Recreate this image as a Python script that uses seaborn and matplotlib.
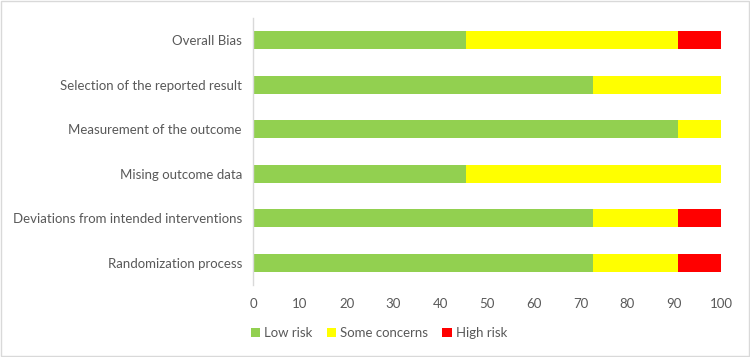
import seaborn as sns
import matplotlib.pyplot as plt
import numpy as np
import pandas as pd
from matplotlib.patches import Patch, Rectangle

# ---- data (percent of studies) ----
domains = [
    "Overall Bias",
    "Selection of the reported result",
    "Measurement of the outcome",
    "Mising outcome data",
    "Deviations from intended interventions",
    "Randomization process",
]
low_risk = [45.45, 72.73, 90.91, 45.45, 72.73, 72.73]
some_concerns = [45.45, 27.27, 9.09, 54.55, 18.18, 18.18]
high_risk = [9.09, 0.0, 0.0, 0.0, 9.09, 9.09]

series_names = ["Low risk", "Some concerns", "High risk"]
colors = ["#92D050", "#FFFF00", "#FF0000"]
TEXT = "#595959"

sns.set_theme(style="white")
plt.rcParams["font.family"] = ["Lato", "DejaVu Sans"]

df = pd.DataFrame({
    "domain": domains,
    "low": low_risk,
    "some": some_concerns,
    "high": high_risk,
})
df["c_low"] = df["low"]
df["c_some"] = df["low"] + df["some"]
df["c_high"] = df["low"] + df["some"] + df["high"]

fig = plt.figure(figsize=(7.5, 3.57), dpi=100)
ax = fig.add_axes([253 / 750, 72 / 357, (721 - 253) / 750, (357 - 72 - 18) / 357])

# stacked bars drawn as overlapping cumulative bars, widest first
for col, color in zip(["c_high", "c_some", "c_low"], colors[::-1]):
    sns.barplot(data=df, x=col, y="domain", orient="h", color=color,
                width=0.4, saturation=1, ax=ax, linewidth=0)

ax.set_xlim(0, 100)
ax.set_xticks(np.arange(0, 101, 10))
ax.set_xlabel("")
ax.set_ylabel("")
for s in ["top", "right", "bottom"]:
    ax.spines[s].set_visible(False)
ax.spines["left"].set_color("#d9d9d9")
ax.spines["left"].set_linewidth(1)
ax.tick_params(axis="both", length=0, colors=TEXT, labelsize=9.5)
ax.tick_params(axis="x", pad=9)
ax.tick_params(axis="y", pad=8)

handles = [Patch(facecolor=c, edgecolor="none", label=n) for c, n in zip(colors, series_names)]
fig.legend(handles=handles, loc="center", bbox_to_anchor=(0.505, 1 - 333 / 357),
           ncol=3, frameon=False, fontsize=9.5, labelcolor=TEXT,
           handlelength=0.7, handleheight=0.7, handletextpad=0.3, columnspacing=1.1)

# light chart border
fig.patches.append(Rectangle((0.001, 0.002), 0.997, 0.995, transform=fig.transFigure,
                             fill=False, edgecolor="#d9d9d9", linewidth=1))

fig.savefig("out.png", dpi=100)
